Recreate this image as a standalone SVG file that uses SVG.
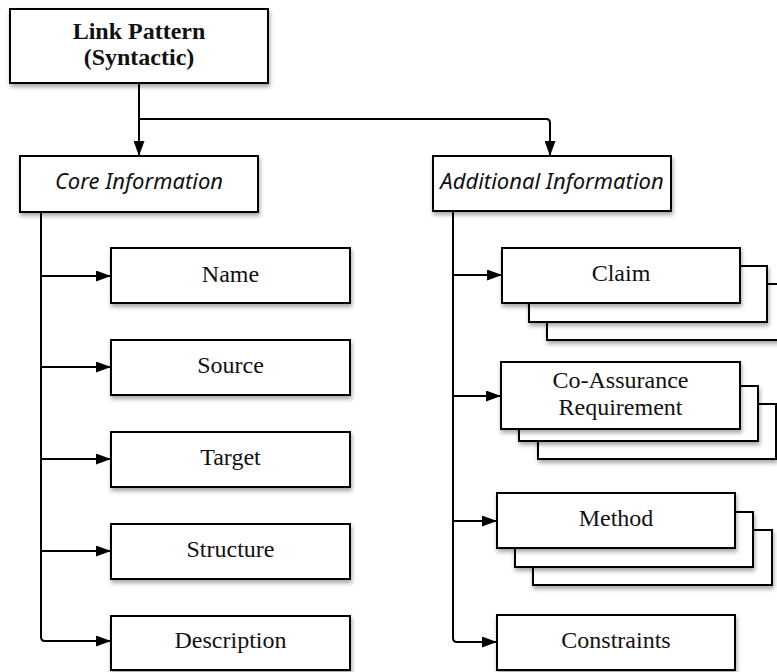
<svg xmlns="http://www.w3.org/2000/svg" width="777" height="672" viewBox="0 0 777 672">
  <defs>
    <filter id="shadow" x="-10%" y="-20%" width="130%" height="160%">
      <feDropShadow dx="1" dy="3" stdDeviation="2" flood-color="#000" flood-opacity="0.35"/>
    </filter>
    <marker id="arrow" viewBox="0 0 15 11" refX="15" refY="5.5" markerWidth="15" markerHeight="11" markerUnits="userSpaceOnUse" orient="auto">
      <path d="M0,0 L15,5.5 L0,11 Z" fill="#000"/>
    </marker>
  </defs>
  <style>
    .box { fill: #fff; stroke: #000; stroke-width: 2; filter: url(#shadow); }
    .lbl { font-family: "Liberation Serif", "Times New Roman", serif; font-size: 24px; fill: #111; text-anchor: middle; }
    .title { font-family: "Liberation Serif", "Times New Roman", serif; font-size: 24px; font-weight: bold; fill: #111; text-anchor: middle; }
    .ital { font-family: "Noto Sans", "Open Sans", sans-serif; font-style: italic; font-size: 22px; fill: #111; text-anchor: middle; }
    .conn { fill: none; stroke: #000; stroke-width: 2; }
    .arr { fill: none; stroke: #000; stroke-width: 2; marker-end: url(#arrow); }
  </style>

  <rect width="777" height="672" fill="#fff"/>

  <!-- connectors -->
  <g id="connectors">
    <path class="arr" d="M139,83 V156"/>
    <path class="arr" d="M139,119 H546 Q550,119 550,123 V156"/>
    <!-- core branch -->
    <path class="conn" d="M41,212 V637 Q41,641 45,641"/>
    <path class="arr" d="M41,276 H111"/>
    <path class="arr" d="M41,367 H111"/>
    <path class="arr" d="M41,459 H111"/>
    <path class="arr" d="M41,551 H111"/>
    <path class="arr" d="M44,641 H111"/>
    <!-- additional branch -->
    <path class="conn" d="M453,211 V638 Q453,642 457,642"/>
    <path class="arr" d="M453,275 H502"/>
    <path class="arr" d="M453,396 H501"/>
    <path class="arr" d="M453,521 H497"/>
    <path class="arr" d="M456,642 H497"/>
  </g>

  <g id="link-pattern">
    <rect class="box" x="10" y="9" width="258" height="74"/>
    <text class="title" x="139" y="39">Link Pattern</text>
    <text class="title" x="139" y="65">(Syntactic)</text>
  </g>

  <g id="core-information">
    <rect class="box" x="20" y="156" width="238" height="56"/>
    <text class="ital" x="139" y="189">Core Information</text>
  </g>

  <g id="additional-information">
    <rect class="box" x="433" y="156" width="238" height="55"/>
    <text class="ital" x="552" y="189">Additional Information</text>
  </g>

  <g id="name">
    <rect class="box" x="111" y="248" width="239" height="55"/>
    <text class="lbl" x="230.5" y="282">Name</text>
  </g>
  <g id="source">
    <rect class="box" x="111" y="340" width="239" height="55"/>
    <text class="lbl" x="230.5" y="373">Source</text>
  </g>
  <g id="target">
    <rect class="box" x="111" y="432" width="239" height="55"/>
    <text class="lbl" x="230.5" y="465">Target</text>
  </g>
  <g id="structure">
    <rect class="box" x="111" y="524" width="239" height="55"/>
    <text class="lbl" x="230.5" y="557">Structure</text>
  </g>
  <g id="description">
    <rect class="box" x="111" y="616" width="239" height="54"/>
    <text class="lbl" x="230.5" y="648">Description</text>
  </g>

  <g id="claim">
    <rect class="box" x="547" y="284" width="238" height="56"/>
    <rect class="box" x="529" y="266" width="238" height="56"/>
    <rect class="box" x="502" y="248" width="238" height="55"/>
    <text class="lbl" x="621" y="281">Claim</text>
  </g>

  <g id="co-assurance-requirement">
    <rect class="box" x="538" y="404" width="238" height="55"/>
    <rect class="box" x="519" y="386" width="239" height="55"/>
    <rect class="box" x="501" y="362" width="239" height="67"/>
    <text class="lbl" x="620.5" y="388">Co-Assurance</text>
    <text class="lbl" x="620.5" y="415">Requirement</text>
  </g>

  <g id="method">
    <rect class="box" x="533" y="530" width="239" height="55"/>
    <rect class="box" x="515" y="512" width="238" height="55"/>
    <rect class="box" x="497" y="493" width="238" height="55"/>
    <text class="lbl" x="616" y="526">Method</text>
  </g>

  <g id="constraints">
    <rect class="box" x="497" y="615" width="238" height="55"/>
    <text class="lbl" x="616" y="648">Constraints</text>
  </g>
</svg>
